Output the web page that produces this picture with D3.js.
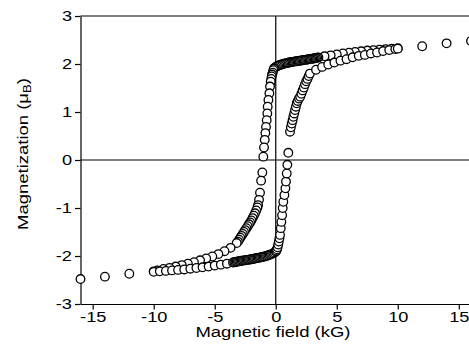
<!DOCTYPE html>
<html>
<head>
<meta charset="utf-8">
<script src="https://cdn.jsdelivr.net/npm/d3@7"></script>
<style>
  html, body { margin: 0; padding: 0; background: #fff; }
  svg { display: block; font-family: "Liberation Sans", Arial, sans-serif; }
  .axis path, .axis line { stroke: #000; stroke-width: 1.2; }
  .axis text { font-size: 14px; fill: #000; }
</style>
</head>
<body>
<svg id="chart" width="469" height="354"></svg>
<script>
// field sweep from +16 kG down to -16 kG
const descField = [16, 14, 12, 10, 9.5, 9, 8.5, 8, 7.5, 7, 6.5, 6, 5.5, 5, 4.5, 4, 3.5,
  3.4, 3.3, 3.2, 3.1, 3.0, 2.9, 2.8, 2.7, 2.6, 2.5, 2.4, 2.3, 2.2, 2.1, 2.0, 1.9, 1.8, 1.7, 1.6,
  1.5, 1.4, 1.3, 1.2, 1.1, 1.0, 0.9, 0.8, 0.7, 0.6, 0.5, 0.4, 0.3, 0.2, 0.1, 0.0,
  -0.1, -0.15, -0.2, -0.25, -0.3, -0.33, -0.37, -0.41, -0.47, -0.52, -0.6, -0.66, -0.69,
  -0.74, -0.8, -0.85, -0.9, -0.96, -1.02, -1.1, -1.2, -1.29, -1.37, -1.45, -1.5, -1.6, -1.7,
  -1.8, -1.9, -2.0, -2.1, -2.2, -2.3, -2.4, -2.5, -2.6, -2.7, -2.8, -2.9, -3.0, -3.1, -3.2,
  -3.7, -4.2, -4.7, -5.2, -5.7, -6.2, -6.7, -7.2, -7.7, -8.2, -8.7, -9.2, -9.7, -10,
  -12, -14, -16];
const descMoment = [2.48, 2.43, 2.37, 2.33, 2.32, 2.31, 2.30, 2.29, 2.28, 2.265, 2.25, 2.235, 2.22, 2.20, 2.18, 2.16, 2.135,
  2.13, 2.125, 2.12, 2.115, 2.11, 2.106, 2.102, 2.098, 2.094, 2.09, 2.086, 2.082, 2.078, 2.074, 2.07, 2.066, 2.062, 2.058, 2.054,
  2.05, 2.045, 2.04, 2.035, 2.03, 2.025, 2.02, 2.014, 2.008, 2.0, 1.992, 1.984, 1.975, 1.965, 1.953, 1.94,
  1.92, 1.90, 1.87, 1.82, 1.78, 1.74, 1.69, 1.63, 1.53, 1.39, 1.25, 1.11, 0.97,
  0.83, 0.69, 0.56, 0.42, 0.26, 0.07, -0.26, -0.43, -0.68, -0.83, -0.94, -0.99, -1.05, -1.11,
  -1.16, -1.21, -1.26, -1.30, -1.34, -1.38, -1.42, -1.46, -1.50, -1.54, -1.58, -1.62, -1.66, -1.70, -1.73,
  -1.83, -1.90, -1.96, -2.01, -2.05, -2.09, -2.13, -2.16, -2.19, -2.22, -2.25, -2.27, -2.30, -2.32,
  -2.37, -2.43, -2.48];

// field sweep from -10 kG back up to +10 kG
const ascField = [-10, -9.5, -9, -8.5, -8, -7.5, -7, -6.5, -6, -5.5, -5, -4.5, -4, -3.5,
  -3.4, -3.3, -3.2, -3.1, -3.0, -2.9, -2.8, -2.7, -2.6, -2.5, -2.4, -2.3, -2.2, -2.1, -2.0,
  -1.9, -1.8, -1.7, -1.6, -1.5, -1.4, -1.3, -1.2, -1.1, -1.0, -0.9, -0.8, -0.7, -0.6, -0.5,
  -0.4, -0.3, -0.2, -0.1, 0.0, 0.05, 0.1, 0.15, 0.2, 0.25, 0.3, 0.35, 0.41, 0.46, 0.52, 0.57,
  0.62, 0.71, 0.79, 0.84, 0.9, 0.95, 1.03, 1.17, 1.24, 1.31, 1.38, 1.44, 1.51, 1.58, 1.65,
  1.72, 1.8, 1.9, 2.0, 2.1, 2.2, 2.3, 2.4, 2.5, 2.6, 2.7, 2.8,
  3.3, 3.8, 4.3, 4.8, 5.3, 5.8, 6.3, 6.8, 7.3, 7.8, 8.3, 8.8, 9.3, 9.8, 10];
const ascMoment = [-2.33, -2.32, -2.31, -2.30, -2.29, -2.28, -2.265, -2.25, -2.235, -2.22, -2.20, -2.18, -2.16, -2.135,
  -2.13, -2.125, -2.12, -2.115, -2.11, -2.106, -2.10, -2.096, -2.092, -2.088, -2.084, -2.08, -2.076, -2.072, -2.068,
  -2.063, -2.058, -2.053, -2.048, -2.043, -2.038, -2.033, -2.027, -2.021, -2.015, -2.008, -2.0, -1.993, -1.985, -1.976,
  -1.966, -1.955, -1.942, -1.926, -1.905, -1.89, -1.86, -1.82, -1.76, -1.70, -1.63, -1.56, -1.42, -1.29, -1.15, -1.0,
  -0.87, -0.73, -0.59, -0.45, -0.28, -0.1, 0.15, 0.59, 0.68, 0.76, 0.83, 0.9, 0.97, 1.04, 1.11,
  1.18, 1.23, 1.28, 1.32, 1.38, 1.45, 1.51, 1.58, 1.64, 1.69, 1.75, 1.80,
  1.88, 1.94, 1.99, 2.03, 2.07, 2.10, 2.14, 2.17, 2.19, 2.22, 2.24, 2.27, 2.29, 2.31, 2.32];

const xTicks = [-15, -10, -5, 0, 5, 10, 15];
const yTicks = [-3, -2, -1, 0, 1, 2, 3];

const svg = d3.select('#chart');

const xScale = d3.scaleLinear().domain([-16, 16]).range([80.5, 471]);
const yScale = d3.scaleLinear().domain([-3, 3]).range([304, 16]);

// stretch text a bit wider, the original font is a wide sans
function widen(sel, k) {
  sel.each(function () {
    const len = this.getComputedTextLength();
    d3.select(this).attr('textLength', len * k).attr('lengthAdjust', 'spacingAndGlyphs');
  });
}

// plain hyphen for negatives, like the original
const plainNum = (d) => String(d);

// frame top and zero lines
svg.append('line')
  .attr('x1', xScale(-16)).attr('x2', xScale(16))
  .attr('y1', yScale(3)).attr('y2', yScale(3))
  .attr('stroke', '#000').attr('stroke-width', 1.2);
svg.append('line')
  .attr('x1', xScale(-16)).attr('x2', xScale(16))
  .attr('y1', yScale(0)).attr('y2', yScale(0))
  .attr('stroke', '#000').attr('stroke-width', 1.2);
svg.append('line')
  .attr('x1', xScale(0)).attr('x2', xScale(0))
  .attr('y1', yScale(3)).attr('y2', yScale(-3))
  .attr('stroke', '#000').attr('stroke-width', 1.2);

const xAxis = svg.append('g')
  .attr('class', 'axis')
  .attr('transform', `translate(0, ${yScale(-3)})`)
  .call(d3.axisBottom(xScale).tickValues(xTicks).tickFormat(plainNum)
    .tickSize(5.5).tickSizeOuter(0).tickPadding(3));
xAxis.selectAll('text').call(widen, 1.3);

const yAxis = svg.append('g')
  .attr('class', 'axis')
  .attr('transform', `translate(${xScale(-16)}, 0)`)
  .call(d3.axisLeft(yScale).tickValues(yTicks).tickFormat(plainNum)
    .tickSize(5.5).tickSizeOuter(0).tickPadding(3));
yAxis.selectAll('text').call(widen, 1.3);

// points, drawn in sweep order
const desc = descField.map((h, i) => ({ h, m: descMoment[i] }));
const asc = ascField.map((h, i) => ({ h, m: ascMoment[i] }));

const dots = svg.append('g').attr('class', 'dots');
dots.selectAll('circle')
  .data(desc.concat(asc))
  .join('circle')
  .attr('cx', (d) => xScale(d.h))
  .attr('cy', (d) => yScale(d.m))
  .attr('r', 4.3)
  .attr('fill', '#fff')
  .attr('stroke', '#000')
  .attr('stroke-width', 1.3);

// axis titles
svg.append('text')
  .attr('x', 273).attr('y', 337)
  .attr('text-anchor', 'middle')
  .attr('font-size', 14)
  .text('Magnetic field (kG)')
  .call(widen, 1.32);

const yLabel = svg.append('text')
  .attr('transform', 'translate(28, 154) rotate(-90)')
  .attr('text-anchor', 'middle')
  .attr('font-size', 14);
yLabel.append('tspan').text('Magnetization (\u03bc');
yLabel.append('tspan').attr('font-size', 10).attr('dy', 3).text('B');
yLabel.append('tspan').attr('dy', -3).text(')');
yLabel.call(widen, 1.32);
</script>
</body>
</html>
